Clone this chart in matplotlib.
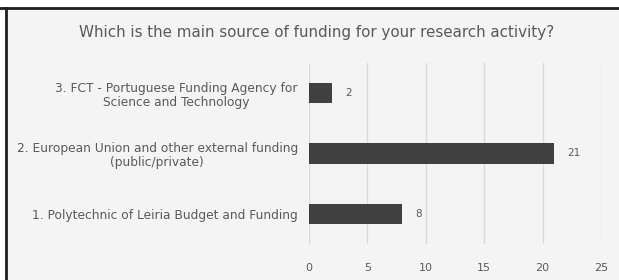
import matplotlib.pyplot as plt
from matplotlib.patches import Rectangle

# data
categories = [
    "1. Polytechnic of Leiria Budget and Funding",
    "2. European Union and other external funding\n(public/private)",
    "3. FCT - Portuguese Funding Agency for\nScience and Technology",
]
counts = [8, 21, 2]
x_ticks = [0, 5, 10, 15, 20, 25]

title = "Which is the main source of funding for your research activity?"

plt.rcParams['font.family'] = ['DejaVu Sans']

bg = "#f4f4f4"
text_col = "#5a5a5a"
bar_col = "#404040"

fig = plt.figure(figsize=(6.19, 2.8), dpi=100)
fig.patch.set_facecolor("white")

# light panel with dark frame on top and left
fig.add_artist(Rectangle((6 / 619, 0), 1, 1 - 8 / 280, transform=fig.transFigure,
                         facecolor=bg, edgecolor="none", zorder=0))
fig.add_artist(plt.Line2D([0, 1], [1 - 8 / 280] * 2, transform=fig.transFigure,
                          color="#1e1e1e", lw=2.0))
fig.add_artist(plt.Line2D([6 / 619] * 2, [0, 1 - 8 / 280], transform=fig.transFigure,
                          color="#1e1e1e", lw=2.0))

ax = fig.add_axes([309 / 619, 1 - 244 / 280, 292 / 619, 181 / 280])
ax.set_facecolor(bg)

ypos = range(len(categories))
ax.barh(ypos, counts, height=0.34, color=bar_col, zorder=3)
for y, v in zip(ypos, counts):
    ax.annotate(str(v), (v, y), xytext=(9, 0), textcoords="offset points",
                va="center", ha="left", fontsize=7.5, color=text_col)

ax.set_xlim(0, 25)
ax.set_ylim(-0.5, len(categories) - 0.5)
ax.set_xticks(x_ticks)
ax.set_yticks(list(ypos))
ax.set_yticklabels(categories, fontsize=8.8, color=text_col,
                   multialignment="center", linespacing=1.1)
ax.tick_params(axis="y", length=0, pad=8)
ax.tick_params(axis="x", length=0, pad=14, labelsize=8, labelcolor=text_col)
ax.xaxis.grid(True, color="#d9d9d9", lw=1.0, zorder=0)
for s in ax.spines.values():
    s.set_visible(False)

fig.text(0.512, 1 - 33 / 280, title, ha="center", va="center",
         fontsize=10.9, color=text_col)

fig.savefig("out.png", dpi=100, facecolor=fig.get_facecolor())
